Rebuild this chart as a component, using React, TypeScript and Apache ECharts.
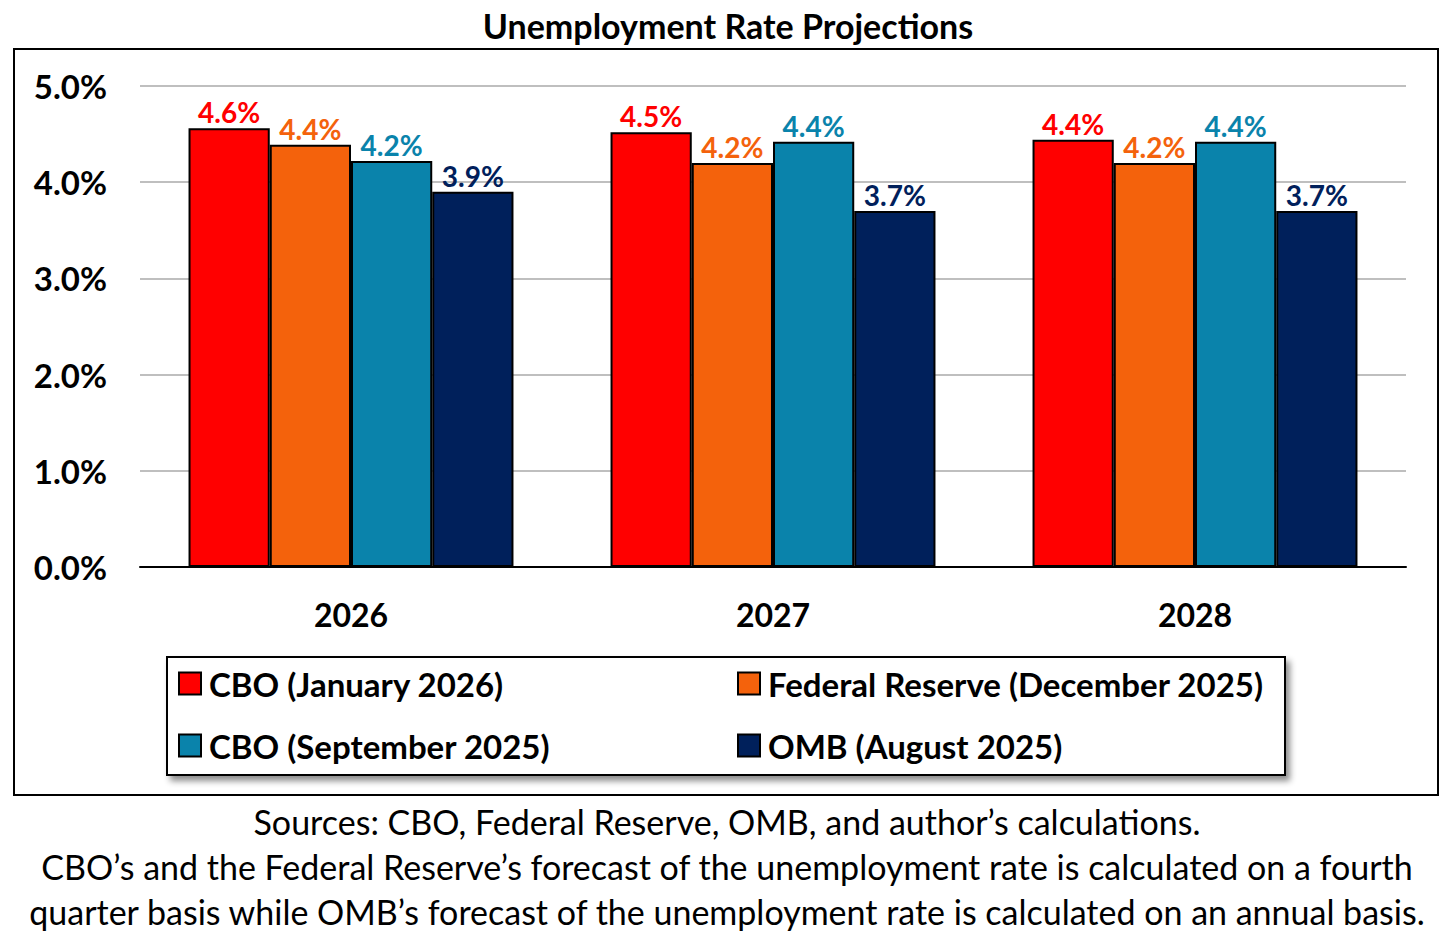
import React, { useEffect, useRef } from "react";
import * as echarts from "echarts";

const years = ["2026", "2027", "2028"];
const seriesNames = [
  "CBO (January 2026)",
  "Federal Reserve (December 2025)",
  "CBO (September 2025)",
  "OMB (August 2025)",
];
const cboJan2026 = [4.56, 4.52, 4.44];
const fedDec2025 = [4.39, 4.2, 4.2];
const cboSep2025 = [4.22, 4.42, 4.42];
const ombAug2025 = [3.9, 3.7, 3.7];
const seriesColors = ["#ff0000", "#f4620c", "#0a83ab", "#00205b"];
const sourceLines = [
  "Sources: CBO, Federal Reserve, OMB, and author\u2019s calculations.",
  "CBO\u2019s and the Federal Reserve\u2019s forecast of the unemployment rate is calculated on a fourth",
  "quarter basis while OMB\u2019s forecast of the unemployment rate is calculated on an annual basis.",
];

const FONT = "Lato, 'Open Sans', sans-serif";

const App: React.FC = () => {
  const chartRef = useRef<HTMLDivElement>(null);

  useEffect(() => {
    document.body.style.margin = "0";
    if (!chartRef.current) return;
    const chart = echarts.init(chartRef.current, undefined, { renderer: "svg" });

    const values = [cboJan2026, fedDec2025, cboSep2025, ombAug2025];

    const legendText = {
      fontFamily: FONT,
      fontSize: 33,
      fontWeight: "bold" as const,
      color: "#000",
      lineHeight: 30,
      padding: [0, 0, 0, 3],
    };

    const option: echarts.EChartsOption = {
      animation: false,
      backgroundColor: "#ffffff",
      textStyle: { fontFamily: FONT },
      title: {
        text: "Unemployment Rate Projections",
        left: "center",
        top: 3,
        textStyle: {
          fontFamily: FONT,
          fontSize: 34,
          fontWeight: "bold",
          color: "#000",
        },
      },
      grid: { left: 140, right: 50, top: 86, bottom: 369 },
      xAxis: {
        type: "category",
        data: years,
        axisLine: { lineStyle: { color: "#000", width: 2 } },
        axisTick: { show: false },
        axisLabel: {
          margin: 31,
          fontFamily: FONT,
          fontSize: 32,
          fontWeight: "bold",
          color: "#000",
        },
      },
      yAxis: {
        type: "value",
        min: 0,
        max: 5,
        interval: 1,
        axisLine: { show: false },
        axisTick: { show: false },
        axisLabel: {
          margin: 33,
          fontFamily: FONT,
          fontSize: 33,
          fontWeight: "bold",
          color: "#000",
          formatter: (v: number) => v.toFixed(1) + "%",
        },
        splitLine: { lineStyle: { color: "#bfbfbf", width: 2 } },
      },
      legend: [
        {
          orient: "vertical",
          left: 178,
          top: 667,
          padding: 0,
          itemWidth: 22,
          itemHeight: 22,
          itemGap: 29,
          icon: "rect",
          data: [seriesNames[0], seriesNames[2]],
          textStyle: legendText,
        },
        {
          orient: "vertical",
          left: 737,
          top: 667,
          padding: 0,
          itemWidth: 22,
          itemHeight: 22,
          itemGap: 29,
          icon: "rect",
          data: [seriesNames[1], seriesNames[3]],
          textStyle: legendText,
        },
      ],
      graphic: [
        {
          type: "rect",
          z: -1,
          shape: { x: 14, y: 49, width: 1424, height: 746 },
          style: { fill: "none", stroke: "#000", lineWidth: 2 },
        },
        {
          type: "rect",
          z: 0,
          shape: { x: 167, y: 657, width: 1118, height: 118 },
          style: {
            fill: "#fff",
            stroke: "#000",
            lineWidth: 2,
            shadowBlur: 6,
            shadowOffsetX: 4,
            shadowOffsetY: 5,
            shadowColor: "rgba(0,0,0,0.45)",
          },
        },
        ...sourceLines.map((line, i) => ({
          type: "text" as const,
          x: 727,
          y: 821 + i * 45,
          style: {
            text: line,
            fill: "#000",
            font: `34px ${FONT}`,
            textAlign: "center" as const,
            textVerticalAlign: "middle" as const,
          },
        })),
      ],
      series: seriesNames.map((name, i) => ({
        name,
        type: "bar" as const,
        data: values[i],
        barGap: "0%",
        barCategoryGap: "23%",
        itemStyle: {
          color: seriesColors[i],
          borderColor: "#000",
          borderWidth: 2,
        },
        label: {
          show: true,
          position: "top" as const,
          distance: 2,
          fontFamily: FONT,
          fontSize: 28,
          fontWeight: "bold" as const,
          color: seriesColors[i],
          formatter: (p: any) => Number(p.value).toFixed(1) + "%",
        },
      })),
    };

    chart.setOption(option);

    return () => {
      chart.dispose();
    };
  }, []);

  return (
    <div
      ref={chartRef}
      style={{ width: 1456, height: 936 }}
      aria-label="Unemployment rate projections bar chart"
    />
  );
};

export default App;
